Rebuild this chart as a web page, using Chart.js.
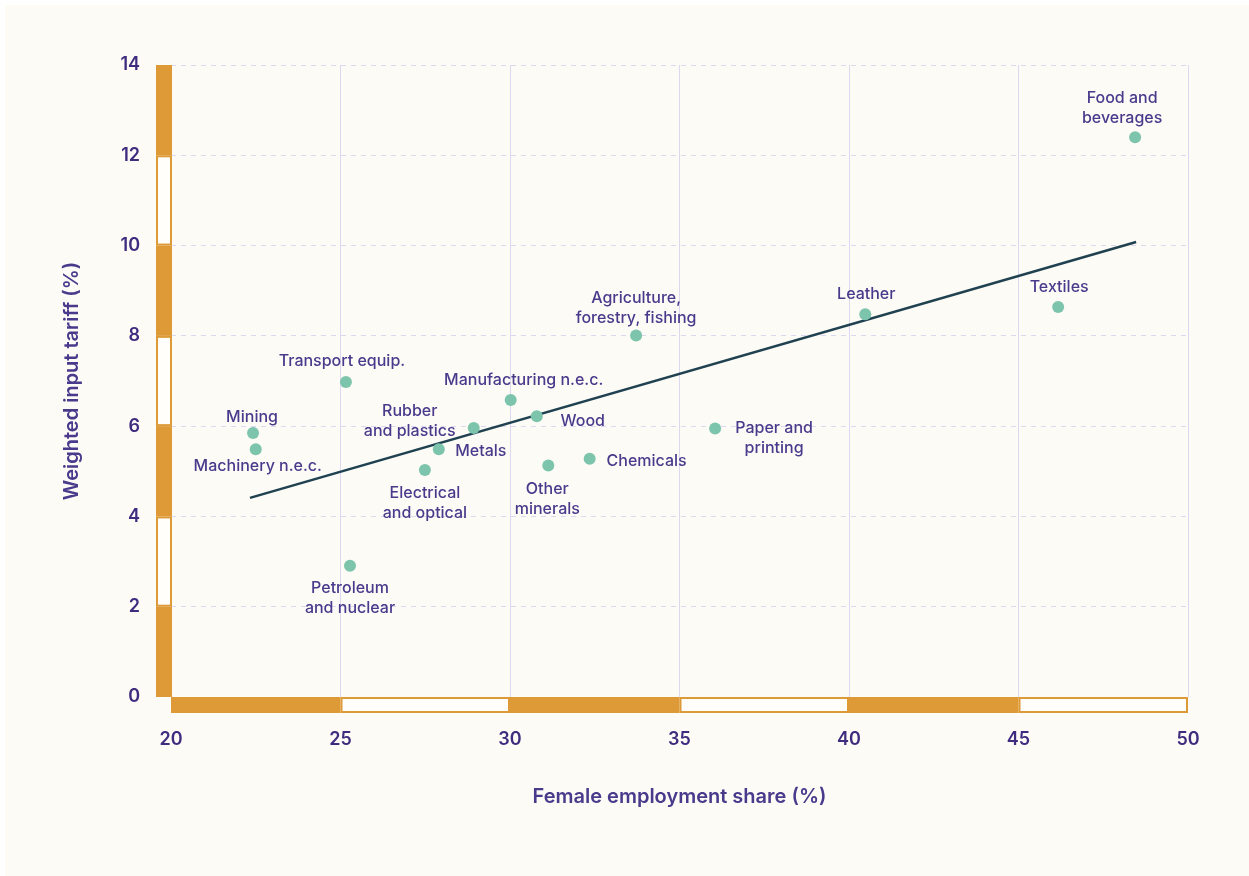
<!DOCTYPE html>
<html>
<head>
<meta charset="utf-8">
<script src="https://cdn.jsdelivr.net/npm/chart.js@4.4.1/dist/chart.umd.min.js"></script>
<style>
  html, body { margin: 0; padding: 0; background: #ffffff; }
</style>
</head>
<body>
<canvas id="chart" width="1249" height="876"></canvas>
<script>
// sectors
const sectors = [
  ['Food and', 'beverages'],
  ['Textiles'],
  ['Leather'],
  ['Agriculture,', 'forestry, fishing'],
  ['Paper and', 'printing'],
  ['Chemicals'],
  ['Other', 'minerals'],
  ['Wood'],
  ['Manufacturing n.e.c.'],
  ['Rubber', 'and plastics'],
  ['Metals'],
  ['Electrical', 'and optical'],
  ['Transport equip.'],
  ['Mining'],
  ['Machinery n.e.c.'],
  ['Petroleum', 'and nuclear'],
];
const femaleShare = [48.44, 46.17, 40.48, 33.72, 36.05, 32.35, 31.13, 30.79, 30.02, 28.93, 27.90, 27.49, 25.16, 22.42, 22.50, 25.28];
const inputTariff = [12.40, 8.64, 8.48, 8.01, 5.95, 5.28, 5.13, 6.22, 6.58, 5.96, 5.49, 5.03, 6.98, 5.85, 5.49, 2.91];

// fitted line end points
const trendX = [22.33, 48.47];
const trendY = [4.41, 10.08];

const xTicks = [20, 25, 30, 35, 40, 45, 50];
const yTicks = [0, 2, 4, 6, 8, 10, 12, 14];

// where each label sits relative to its dot (px, centre of first line)
const labelOffsets = [
  [-13, -39], [1, -20], [1, -20], [0, -37], [59, 0], [57, 3], [-1, 24], [46, 5],
  [13, -20], [-64, -17], [42, 2], [0, 23], [-4, -21], [-1, -16], [2, 17], [0, 23],
];

const ORANGE = '#dd9a36';
const PURPLE = '#3e2d7f';
const LABEL = '#4a3a8c';
const GRID = '#dcd8ef';

const points = femaleShare.map((x, i) => ({ x: x, y: inputTariff[i] }));
const trend = trendX.map((x, i) => ({ x: x, y: trendY[i] }));

const background = {
  id: 'background',
  beforeDraw(chart) {
    const c = chart.ctx;
    c.save();
    c.fillStyle = '#ffffff';
    c.fillRect(0, 0, chart.width, chart.height);
    c.fillStyle = '#fcfbf6';
    c.fillRect(5, 5, chart.width - 5, chart.height - 5);
    c.restore();
  },
};

// the striped orange rulers along both axes
const axisBars = {
  id: 'axisBars',
  beforeDatasetsDraw(chart) {
    const c = chart.ctx;
    const xs = chart.scales.x;
    const ys = chart.scales.y;
    const area = chart.chartArea;
    c.save();
    c.lineWidth = 2;
    c.strokeStyle = ORANGE;
    for (let i = 0; i < yTicks.length - 1; i++) {
      const top = ys.getPixelForValue(yTicks[i + 1]);
      const bot = ys.getPixelForValue(yTicks[i]);
      const l = area.left - 15, w = 16;
      if (i % 2 === 0) {
        c.fillStyle = ORANGE;
        c.fillRect(l, top, w, bot - top);
      } else {
        c.fillStyle = '#fffefb';
        c.fillRect(l + 1, top + 1, w - 2, bot - top - 2);
        c.strokeRect(l + 1, top + 1, w - 2, bot - top - 2);
      }
    }
    for (let i = 0; i < xTicks.length - 1; i++) {
      const l = xs.getPixelForValue(xTicks[i]);
      const r = xs.getPixelForValue(xTicks[i + 1]);
      const t = area.bottom, h = 16;
      if (i % 2 === 0) {
        c.fillStyle = ORANGE;
        c.fillRect(l, t, r - l, h);
      } else {
        c.fillStyle = '#fffefb';
        c.fillRect(l + 1, t + 1, r - l - 2, h - 2);
        c.strokeRect(l + 1, t + 1, r - l - 2, h - 2);
      }
    }
    c.restore();
  },
};

const pointLabels = {
  id: 'pointLabels',
  afterDatasetsDraw(chart) {
    const c = chart.ctx;
    const meta = chart.getDatasetMeta(0);
    c.save();
    c.font = '500 16px Inter';
    c.fillStyle = LABEL;
    c.textAlign = 'center';
    c.textBaseline = 'middle';
    meta.data.forEach((pt, i) => {
      const [dx, dy] = labelOffsets[i];
      sectors[i].forEach((line, j) => {
        c.fillText(line, pt.x + dx, pt.y + dy + j * 20);
      });
    });
    c.restore();
  },
};

new Chart(document.getElementById('chart').getContext('2d'), {
  type: 'scatter',
  data: {
    datasets: [
      {
        data: points,
        backgroundColor: '#7cc4ab',
        borderWidth: 0,
        pointRadius: 6,
        pointHoverRadius: 6,
      },
      {
        type: 'line',
        data: trend,
        borderColor: '#1f4150',
        borderWidth: 2.5,
        pointRadius: 0,
        fill: false,
        tension: 0,
      },
    ],
  },
  options: {
    responsive: false,
    animation: false,
    devicePixelRatio: 1,
    layout: { padding: { top: 65, right: 61, bottom: 0, left: 0 } },
    plugins: { legend: { display: false }, tooltip: { enabled: false } },
    scales: {
      x: {
        type: 'linear',
        min: 20,
        max: 50,
        afterBuildTicks: (s) => { s.ticks = xTicks.map((v) => ({ value: v })); },
        afterFit: (s) => { s.height = 876 - 697; },
        ticks: { color: PURPLE, font: { family: 'Inter', size: 18, weight: '600' }, padding: 32 },
        grid: { color: GRID, drawTicks: false },
        border: { display: false },
        title: {
          display: true,
          text: 'Female employment share (%)',
          color: LABEL,
          font: { family: 'Inter', size: 20, weight: '600' },
          padding: { top: 0, bottom: 67 },
        },
      },
      y: {
        min: 0,
        max: 14,
        afterBuildTicks: (s) => { s.ticks = yTicks.map((v) => ({ value: v })); },
        afterFit: (s) => { s.width = 171; },
        ticks: { color: PURPLE, font: { family: 'Inter', size: 18, weight: '600' }, padding: 31 },
        grid: { color: GRID, drawTicks: false },
        border: { display: false, dash: [5, 5] },
        title: {
          display: true,
          text: 'Weighted input tariff (%)',
          color: LABEL,
          font: { family: 'Inter', size: 20, weight: '600' },
          padding: { top: 60, bottom: 0 },
        },
      },
    },
  },
  plugins: [background, axisBars, pointLabels],
});
</script>
</body>
</html>
